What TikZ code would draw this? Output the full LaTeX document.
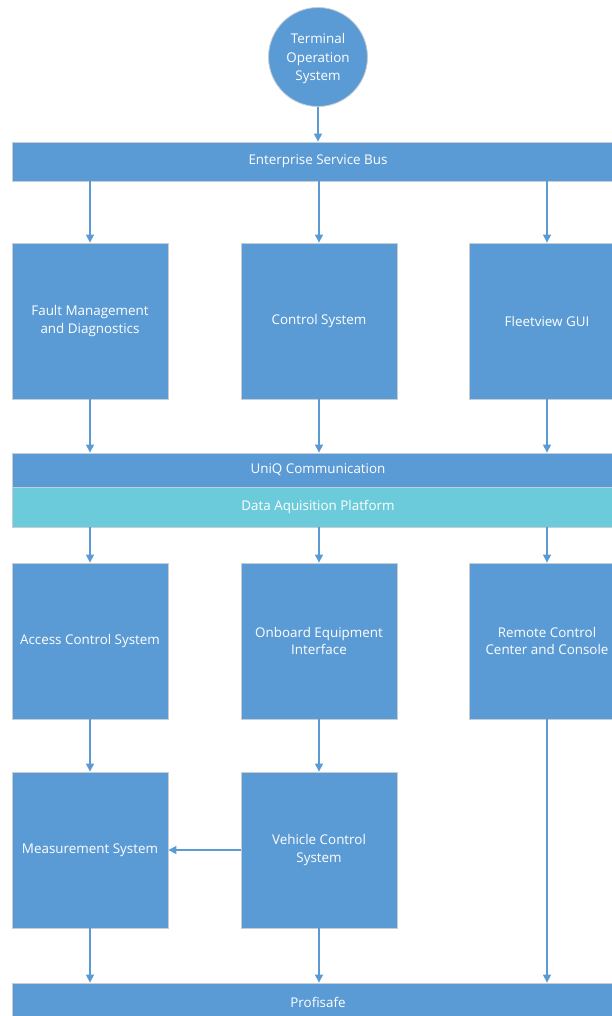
\documentclass[tikz,border=0pt]{standalone}
\usepackage{fontspec}
\setmainfont{Open Sans}
\usetikzlibrary{arrows.meta}
\definecolor{boxblue}{HTML}{5B9BD5}
\definecolor{busteal}{HTML}{6CCBDB}
\definecolor{rim}{HTML}{C8CDD3}
\begin{document}
\begin{tikzpicture}[x=1pt,y=-1pt,
  lbl/.style={text=white,font=\fontsize{13.4}{17.5}\selectfont,align=center},
  block/.style={lbl,rectangle,fill=boxblue,draw=rim,line width=0.8pt,inner sep=0pt,
    minimum width=156pt,minimum height=156pt},
  bar/.style={lbl,rectangle,fill=boxblue,draw=rim,line width=0.8pt,inner sep=0pt,
    minimum width=612pt},
  arr/.style={draw=boxblue,line width=1.1pt,-{Triangle[width=8pt,length=8pt]}}]
\clip (0,0) rectangle (612,1016);
\fill[white] (0,0) rectangle (612,1016);

% top system
\node[circle,fill=boxblue,draw=rim,line width=0.8pt,minimum size=99pt,inner sep=0pt]
  (tos) at (318,57) {};
\node[lbl,font=\fontsize{13.4}{18.5}\selectfont] (tostext) at (318,59)
  {Terminal\\Operation\\System};

% buses
\node[bar,minimum height=39pt] (esb) at (318,161.5) {Enterprise Service Bus};
\node[bar,minimum height=34pt] (uniq) at (318,470) {UniQ Communication};
\node[bar,minimum height=40pt,fill=busteal] (dap) at (318,507) {Data Aquisition Platform};
\node[bar,minimum height=38pt] (profi) at (318,1002) {Profisafe};

% first row
\node[block] (fmd) at (90,321) {Fault Management\\and Diagnostics};
\node[block] (ctrl) at (319,321) {Control System};
\node[block] (fleet) at (547,321) {Fleetview GUI};

% second row
\node[block] (acs) at (90,641) {Access Control System};
\node[block] (oei) at (319,641) {Onboard Equipment\\Interface};
\node[block] (rcc) at (547,641) {Remote Control\\Center and Console};

% third row
\node[block] (meas) at (90,850) {Measurement System};
\node[block] (vcs) at (319,850) {Vehicle Control\\System};

% connectors
\draw[arr] (tos.south) -- (tos.south |- esb.north);
\foreach \n in {fmd,ctrl,fleet}{
  \draw[arr] (\n.north |- esb.south) -- (\n.north);
  \draw[arr] (\n.south) -- (\n.south |- uniq.north);
}
\foreach \n in {acs,oei,rcc}
  \draw[arr] (\n.north |- dap.south) -- (\n.north);
\draw[arr] (acs.south) -- (meas.north);
\draw[arr] (oei.south) -- (vcs.north);
\draw[arr] (vcs.west) -- (meas.east);
\draw[arr] (meas.south) -- (meas.south |- profi.north);
\draw[arr] (vcs.south) -- (vcs.south |- profi.north);
\draw[arr] (rcc.south) -- (rcc.south |- profi.north);
\end{tikzpicture}
\end{document}
